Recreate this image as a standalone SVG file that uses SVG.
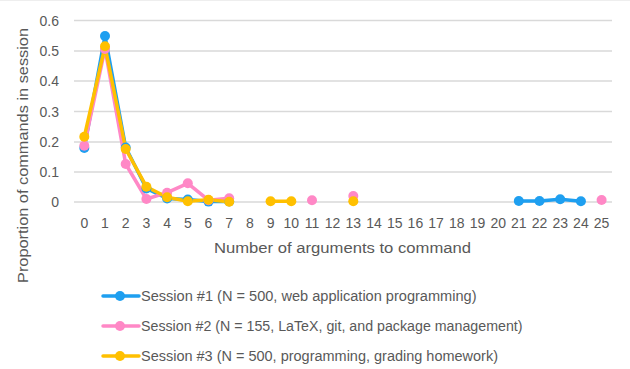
<svg xmlns="http://www.w3.org/2000/svg" width="630" height="369" viewBox="0 0 630 369">
<style>
text{font-family:"Liberation Sans",Arial,sans-serif;fill:#595959;font-size:14px}
.grid line{stroke:#D9D9D9;stroke-width:1.5}
.xl text{text-anchor:middle}
.yl text{text-anchor:end}
.s1{stroke:#1E9FF0;fill:none;stroke-width:3.5;stroke-linejoin:round;stroke-linecap:round}
.s2{stroke:#FF88C6;fill:none;stroke-width:3.5;stroke-linejoin:round;stroke-linecap:round}
.s3{stroke:#FFC000;fill:none;stroke-width:3.5;stroke-linejoin:round;stroke-linecap:round}
.m1{fill:#1E9FF0}
.m2{fill:#FF88C6}
.m3{fill:#FFC000}
</style>
<rect x="0" y="0" width="630" height="369" fill="#FFFFFF"/>
<line x1="0" y1="0.5" x2="630" y2="0.5" stroke="#EEEEEE" stroke-width="1"/>
<g class="grid">
<line x1="74" y1="20.5" x2="612" y2="20.5"/>
<line x1="74" y1="51" x2="612" y2="51"/>
<line x1="74" y1="81" x2="612" y2="81"/>
<line x1="74" y1="111.5" x2="612" y2="111.5"/>
<line x1="74" y1="142" x2="612" y2="142"/>
<line x1="74" y1="172" x2="612" y2="172"/>
<line x1="74" y1="202" x2="612" y2="202"/>
</g>
<g class="yl">
<text x="59" y="25.5">0.6</text>
<text x="59" y="56">0.5</text>
<text x="59" y="86">0.4</text>
<text x="59" y="116.5">0.3</text>
<text x="59" y="147">0.2</text>
<text x="59" y="177">0.1</text>
<text x="59" y="207">0</text>
</g>
<g class="xl">
<text x="84.3" y="228">0</text><text x="105" y="228">1</text><text x="125.7" y="228">2</text><text x="146.4" y="228">3</text><text x="167.1" y="228">4</text><text x="187.8" y="228">5</text><text x="208.5" y="228">6</text><text x="229.2" y="228">7</text><text x="249.9" y="228">8</text><text x="270.6" y="228">9</text><text x="291.3" y="228">10</text><text x="312" y="228">11</text><text x="332.6" y="228">12</text><text x="353.3" y="228">13</text><text x="374" y="228">14</text><text x="394.7" y="228">15</text><text x="415.4" y="228">16</text><text x="436.1" y="228">17</text><text x="456.8" y="228">18</text><text x="477.5" y="228">19</text><text x="498.2" y="228">20</text><text x="518.8" y="228">21</text><text x="539.5" y="228">22</text><text x="560.2" y="228">23</text><text x="580.9" y="228">24</text><text x="601.6" y="228">25</text>
</g>
<text x="342.5" y="253" text-anchor="middle" textLength="257" lengthAdjust="spacingAndGlyphs">Number of arguments to command</text>
<text transform="translate(28,155.5) rotate(-90)" text-anchor="middle" textLength="255" lengthAdjust="spacingAndGlyphs">Proportion of commands in session</text>
<g id="connectors">
<polyline class="s1" points="84.3,148 105,36 125.7,147.5 146.4,188.5 167.1,198.4 187.8,199.6 208.5,201.6 229.2,201.4"/>
<polyline class="s1" points="518.8,201 539.5,201 560.2,199.3 580.9,201.3"/>
<polyline class="s2" points="84.3,145.7 105,49 125.7,164 146.4,199 167.1,192.7 187.8,183.3 208.5,200.2 229.2,198.3"/>
<polyline class="s3" points="84.3,136.7 105,46.3 125.7,149 146.4,186.7 167.1,197.3 187.8,201.3 208.5,199.7 229.2,201.7"/>
<polyline class="s3" points="270.6,201.3 291.3,201.3"/>
</g>
<g id="session1">
<circle class="m1" cx="84.3" cy="148" r="5"/><circle class="m1" cx="105" cy="36" r="5"/><circle class="m1" cx="125.7" cy="147.5" r="5"/><circle class="m1" cx="146.4" cy="188.5" r="5"/><circle class="m1" cx="167.1" cy="198.4" r="5"/><circle class="m1" cx="187.8" cy="199.6" r="5"/><circle class="m1" cx="208.5" cy="201.6" r="5"/><circle class="m1" cx="229.2" cy="201.4" r="5"/>
<circle class="m1" cx="518.8" cy="201" r="5"/><circle class="m1" cx="539.5" cy="201" r="5"/><circle class="m1" cx="560.2" cy="199.3" r="5"/><circle class="m1" cx="580.9" cy="201.3" r="5"/>
</g>
<g id="session2">
<circle class="m2" cx="84.3" cy="145.7" r="5"/><circle class="m2" cx="105" cy="49" r="5"/><circle class="m2" cx="125.7" cy="164" r="5"/><circle class="m2" cx="146.4" cy="199" r="5"/><circle class="m2" cx="167.1" cy="192.7" r="5"/><circle class="m2" cx="187.8" cy="183.3" r="5"/><circle class="m2" cx="208.5" cy="200.2" r="5"/><circle class="m2" cx="229.2" cy="198.3" r="5"/>
<circle class="m2" cx="312" cy="200.3" r="5"/><circle class="m2" cx="353.3" cy="196" r="5"/><circle class="m2" cx="601.6" cy="200" r="5"/>
</g>
<g id="session3">
<circle class="m3" cx="84.3" cy="136.7" r="5"/><circle class="m3" cx="105" cy="46.3" r="5"/><circle class="m3" cx="125.7" cy="149" r="5"/><circle class="m3" cx="146.4" cy="186.7" r="5"/><circle class="m3" cx="167.1" cy="197.3" r="5"/><circle class="m3" cx="187.8" cy="201.3" r="5"/><circle class="m3" cx="208.5" cy="199.7" r="5"/><circle class="m3" cx="229.2" cy="201.7" r="5"/>
<circle class="m3" cx="270.6" cy="201.3" r="5"/><circle class="m3" cx="291.3" cy="201.3" r="5"/><circle class="m3" cx="353.3" cy="201.3" r="5"/>
</g>
<g id="legend">
<line class="s1" x1="103" y1="296" x2="139" y2="296"/><circle class="m1" cx="120" cy="296" r="5"/>
<text x="141" y="301" textLength="335.5" lengthAdjust="spacingAndGlyphs">Session #1 (N = 500, web application programming)</text>
<line class="s2" x1="103" y1="326" x2="139" y2="326"/><circle class="m2" cx="120" cy="326" r="5"/>
<text x="141" y="331" textLength="381.5" lengthAdjust="spacingAndGlyphs">Session #2 (N = 155, LaTeX, git, and package management)</text>
<line class="s3" x1="103" y1="356" x2="139" y2="356"/><circle class="m3" cx="120" cy="356" r="5"/>
<text x="141" y="361" textLength="357" lengthAdjust="spacingAndGlyphs">Session #3 (N = 500, programming, grading homework)</text>
</g>
</svg>
